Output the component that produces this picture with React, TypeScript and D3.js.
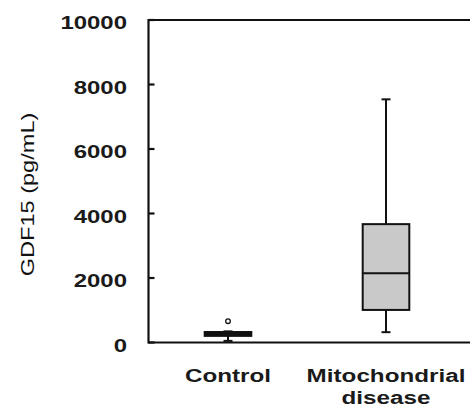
import React from "react";
import * as d3 from "d3";

const categories = ["Control", "Mitochondrial disease"];
const labelLines = [["Control"], ["Mitochondrial", "disease"]];
const whiskerLow = [50, 320];
const q1 = [205, 1010];
const median = [265, 2145];
const q3 = [325, 3670];
const whiskerHigh = [345, 7540];
const outliers = [[660], []];
const yTicks = [0, 2000, 4000, 6000, 8000, 10000];
const yLabel = "GDF15 (pg/mL)";

const W = 470;
const H = 408;
const left = 148.5;
const top = 20;
const bottom = 342.5;

export default function App() {
  const y = d3.scaleLinear().domain([0, 10000]).range([bottom, top]);
  const x = d3.scaleBand().domain(categories).range([149, 465]).paddingInner(0).paddingOuter(0);
  const boxW = x.bandwidth() * 0.295;
  const capW = 9;
  const font = "Liberation Sans, Arial, sans-serif";
  const sx = 1.31;

  return (
    <div style={{ position: "absolute", left: 0, top: 0 }}>
      <svg width={W} height={H} style={{ display: "block", background: "#fff" }}>
        {/* boxes */}
        {categories.map((c, i) => {
          const cx = (x(c) as number) + x.bandwidth() / 2;
          return (
            <g key={c} stroke="#111" strokeWidth={2} fill="none">
              <line x1={cx} x2={cx} y1={y(whiskerLow[i])} y2={y(q1[i])} />
              <line x1={cx} x2={cx} y1={y(q3[i])} y2={y(whiskerHigh[i])} />
              <line x1={cx - capW / 2} x2={cx + capW / 2} y1={y(whiskerLow[i])} y2={y(whiskerLow[i])} />
              <line x1={cx - capW / 2} x2={cx + capW / 2} y1={y(whiskerHigh[i])} y2={y(whiskerHigh[i])} />
              <rect
                x={cx - boxW / 2}
                y={y(q3[i])}
                width={boxW}
                height={y(q1[i]) - y(q3[i])}
                fill="#c9c9c9"
              />
              <line x1={cx - boxW / 2} x2={cx + boxW / 2} y1={y(median[i])} y2={y(median[i])} />
              {outliers[i].map((o, j) => (
                <circle key={j} cx={cx} cy={y(o)} r={2.3} strokeWidth={1.3} fill="#fff" />
              ))}
            </g>
          );
        })}

        {/* frame */}
        <g stroke="#111" strokeWidth={2.2} fill="none">
          <line x1={left} x2={W} y1={y(10000)} y2={y(10000)} />
          <line x1={left} x2={W} y1={y(0)} y2={y(0)} />
          <line x1={left} x2={left} y1={y(10000) - 1} y2={y(0) + 1} />
          {yTicks.map((t) => (
            <line key={t} x1={left} x2={left + 6} y1={y(t)} y2={y(t)} />
          ))}
        </g>

        {/* y tick labels */}
        {yTicks.map((t) => (
          <text
            key={t}
            transform={`translate(127,${y(t) + 9}) scale(${sx},1)`}
            textAnchor="end"
            fontFamily={font}
            fontWeight="bold"
            fontSize={18.3}
            fill="#1a1a1a"
          >
            {t}
          </text>
        ))}

        {/* y label */}
        <text
          transform={`translate(34,194.5) rotate(-90) scale(${sx},1)`}
          textAnchor="middle"
          fontFamily={font}
          fontSize={18}
          fill="#111"
        >
          {yLabel}
        </text>

        {/* x labels */}
        {categories.map((c, i) => {
          const cx = (x(c) as number) + x.bandwidth() / 2;
          return labelLines[i].map((ln, k) => (
            <text
              key={c + k}
              transform={`translate(${cx},${381.7 + k * 22.5}) scale(${sx},1)`}
              textAnchor="middle"
              fontFamily={font}
              fontWeight="bold"
              fontSize={18.5}
              fill="#1a1a1a"
            >
              {ln}
            </text>
          ));
        })}
      </svg>
    </div>
  );
}
